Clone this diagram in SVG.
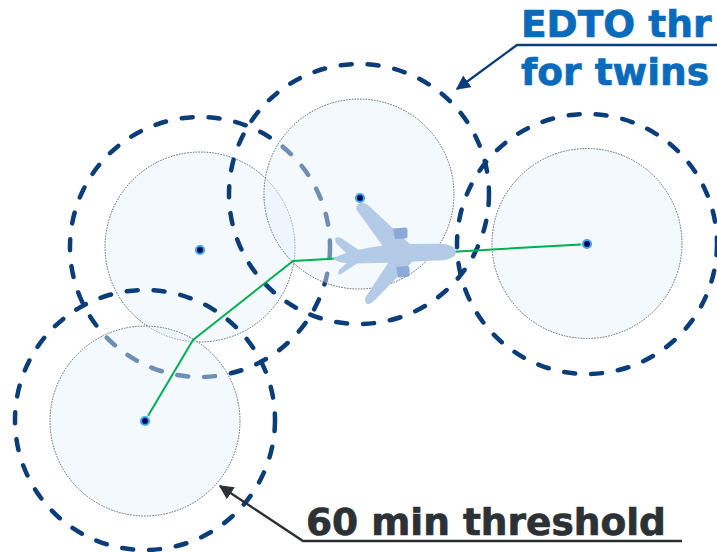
<svg xmlns="http://www.w3.org/2000/svg" width="717" height="552" viewBox="0 0 717 552">
  <defs>
    <style>
      .ring { fill: none; stroke: #0b3d78; stroke-width: 4.5; stroke-linecap: round; stroke-dasharray: 11 16; }
      .range { fill: #e6f1fc; fill-opacity: 0.45; stroke: #555a60; stroke-width: 0.9; stroke-dasharray: 1.6 1.2; }
      .site { fill: #00065a; stroke: #3da6e8; stroke-width: 2.2; }
      .route { fill: none; stroke: #00b050; stroke-width: 2; stroke-linejoin: round; }
      .lbl { font-family: "DejaVu Sans", Verdana, sans-serif; font-weight: bold; font-size: 37.5px; stroke-width: 0.7; }
      .plane { fill: #b3cbe7; }
      .engine { fill: #8da9da; }
    </style>
    <marker id="ahBlue" viewBox="0 0 10 10" refX="9" refY="5" markerWidth="6" markerHeight="6" markerUnits="strokeWidth" orient="auto">
      <path d="M0,0 L10,5 L0,10 Z" fill="#0b3d78"/>
    </marker>
    <marker id="ahGrey" viewBox="0 0 10 10" refX="9" refY="5" markerWidth="6" markerHeight="6" markerUnits="strokeWidth" orient="auto">
      <path d="M0,0 L10,5 L0,10 Z" fill="#2b3135"/>
    </marker>
    <filter id="soft" x="-10%" y="-10%" width="120%" height="120%">
      <feGaussianBlur stdDeviation="0.5"/>
    </filter>
  </defs>

  <rect width="717" height="552" fill="#ffffff"/>

  <!-- diversion airports: 120 min ring, 60 min range, airport dot -->
  <g id="airport-a">
    <circle class="ring" cx="200" cy="247" r="130"/>
    <circle class="range" cx="200" cy="247" r="95"/>
    <circle class="site" cx="200" cy="250" r="4"/>
  </g>
  <g id="airport-b">
    <circle class="ring" cx="359" cy="194" r="130"/>
    <circle class="range" cx="359" cy="194" r="95"/>
    <circle class="site" cx="360" cy="198" r="4"/>
  </g>
  <g id="airport-c">
    <circle class="ring" cx="587" cy="244" r="130"/>
    <circle class="range" cx="587" cy="243.5" r="95"/>
    <circle class="site" cx="587" cy="244" r="4"/>
  </g>
  <g id="airport-d">
    <circle class="ring" cx="145" cy="420" r="130"/>
    <circle class="range" cx="145" cy="421" r="95"/>
    <circle class="site" cx="145" cy="421" r="4"/>
  </g>

  <!-- flight route and label leaders -->
  <g id="connectors">
    <polyline class="route" points="148.1,415.8 193,340 293,261 581,244.4"/>
    <polyline points="717,45 517,45 457,89" fill="none" stroke="#0b3d78" stroke-width="2.4" marker-end="url(#ahBlue)"/>
    <polyline points="682,541 303,541 220,486" fill="none" stroke="#2b3135" stroke-width="2.4" marker-end="url(#ahGrey)"/>
  </g>

  <!-- aircraft, top view, heading east -->
  <g id="aircraft" filter="url(#soft)">
    <path class="plane" d="M412,246 L368,205 Q358,199 356,209 L385,249 Z"/>
    <path class="plane" d="M416,258 L375,300 Q365,309 365,298 L390,260 Z"/>
    <path class="plane" d="M363,253 L341,238 Q333,235 336,243 L350,257 Z"/>
    <path class="plane" d="M364,259 L344,272 Q336,278 339,270 L350,260 Z"/>
    <path class="plane" d="M333,258.5 C343,253.5 352,251 365,248.5 C378,246 390,244.3 400,244 L438,243.8 C450,243.8 456,247.3 456,252 C456,256.7 450,260.5 438,260.5 L400,262 C385,262.8 360,264 345,263 C339,262.5 335,260.5 333,258.5 Z"/>
    <path class="engine" d="M393,228.5 L405,227.5 Q407.5,227.5 407.5,230.5 L407.5,236 Q407.5,238.5 405,238.5 L395,239 Z"/>
    <path class="engine" d="M396,267 L407,266 Q409.5,266 409.5,269 L409.5,274.5 Q409.5,277 407,277 L398,277.5 Z"/>
  </g>

  <!-- captions -->
  <g id="label-edto">
    <text class="lbl" x="521" y="37" fill="#0a6bbd" stroke="#0a6bbd">EDTO thr</text>
    <text class="lbl" x="521" y="85" fill="#0a6bbd" stroke="#0a6bbd">for twins</text>
  </g>
  <g id="label-60">
    <text class="lbl" x="306" y="535" fill="#2b3135" stroke="#2b3135">60 min threshold</text>
  </g>
</svg>
